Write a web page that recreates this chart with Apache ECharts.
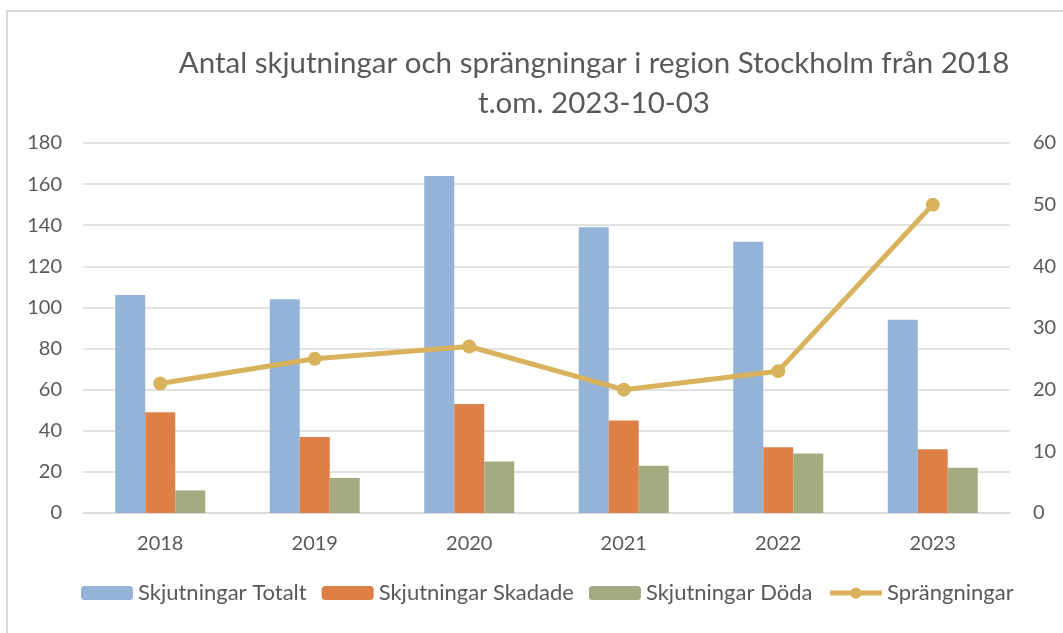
<!DOCTYPE html>
<html>
<head>
<meta charset="utf-8">
<script src="https://cdn.jsdelivr.net/npm/echarts@6/dist/echarts.min.js"></script>
<style>
  html, body { margin: 0; padding: 0; background: #fff; }
  #containerChart { width: 1063px; height: 633px; }
</style>
</head>
<body>
<div id="containerChart"></div>
<script>
// data
var $anos = ['2018', '2019', '2020', '2021', '2022', '2023'];
var $totalt = [106, 104, 164, 139, 132, 94];
var $skadade = [49, 37, 53, 45, 32, 31];
var $doda = [11, 17, 25, 23, 29, 22];
var $sprang = [21, 25, 27, 20, 23, 50];
var $nomes = ['Skjutningar Totalt', 'Skjutningar Skadade', 'Skjutningar Döda', 'Sprängningar'];

var $fonte = 'Lato, "Open Sans", sans-serif';
var $cinza = '#595959';
var $grade = '#d9d9d9';
var $ouro = '#d8b25c';

var chartOption = {
    animation: false,
    textStyle: { fontFamily: $fonte, color: $cinza },
    title: {
        text: 'Antal skjutningar och sprängningar i region Stockholm från 2018\nt.om. 2023-10-03',
        left: 589,
        top: 38,
        textAlign: 'center',
        textStyle: {
            fontFamily: $fonte,
            fontWeight: 'normal',
            fontSize: 29.5,
            lineHeight: 40,
            color: $cinza
        }
    },
    // light frame of the chart area (only left/top visible)
    graphic: [{
        type: 'rect',
        shape: { x: 7, y: 11, width: 1200, height: 800 },
        style: { fill: 'none', stroke: $grade, lineWidth: 2 },
        silent: true
    }],
    grid: {
        left: 83,
        right: 53,
        top: 143,
        bottom: 120
    },
    legend: {
        bottom: 24,
        left: 76,
        itemWidth: 52,
        itemHeight: 14,
        itemGap: 15,
        textStyle: { fontFamily: $fonte, fontSize: 22, color: $cinza },
        data: [
            $nomes[0], $nomes[1], $nomes[2],
            { name: $nomes[3], lineStyle: { width: 5, color: $ouro } }
        ]
    },
    xAxis: {
        type: 'category',
        data: $anos,
        axisLine: { lineStyle: { color: $grade, width: 1.5 } },
        axisTick: { show: false },
        axisLabel: { fontSize: 20, color: $cinza, margin: 21 }
    },
    yAxis: [{
        type: 'value',
        min: 0,
        max: 180,
        interval: 20,
        axisLine: { show: false },
        axisTick: { show: false },
        axisLabel: { fontSize: 20, color: $cinza, margin: 21 },
        splitLine: { lineStyle: { color: $grade, width: 1.5 } }
    }, {
        type: 'value',
        min: 0,
        max: 60,
        interval: 10,
        axisLine: { show: false },
        axisTick: { show: false },
        axisLabel: { fontSize: 20, color: $cinza, margin: 23 },
        splitLine: { show: false }
    }],
    series: [{
        name: $nomes[0],
        type: 'bar',
        data: $totalt,
        barWidth: 30,
        barGap: '0%',
        itemStyle: { color: '#95b3d7' }
    }, {
        name: $nomes[1],
        type: 'bar',
        data: $skadade,
        barWidth: 30,
        barGap: '0%',
        itemStyle: { color: '#dd8047' }
    }, {
        name: $nomes[2],
        type: 'bar',
        data: $doda,
        barWidth: 30,
        barGap: '0%',
        itemStyle: { color: '#a5ab81' }
    }, {
        name: $nomes[3],
        type: 'line',
        yAxisIndex: 1,
        data: $sprang,
        color: $ouro,
        symbol: 'circle',
        symbolSize: 14,
        lineStyle: { color: $ouro, width: 5 },
        itemStyle: { color: $ouro }
    }]
};

var graficoSkj = echarts.init(document.getElementById('containerChart'));
graficoSkj.setOption(chartOption);
</script>
</body>
</html>
